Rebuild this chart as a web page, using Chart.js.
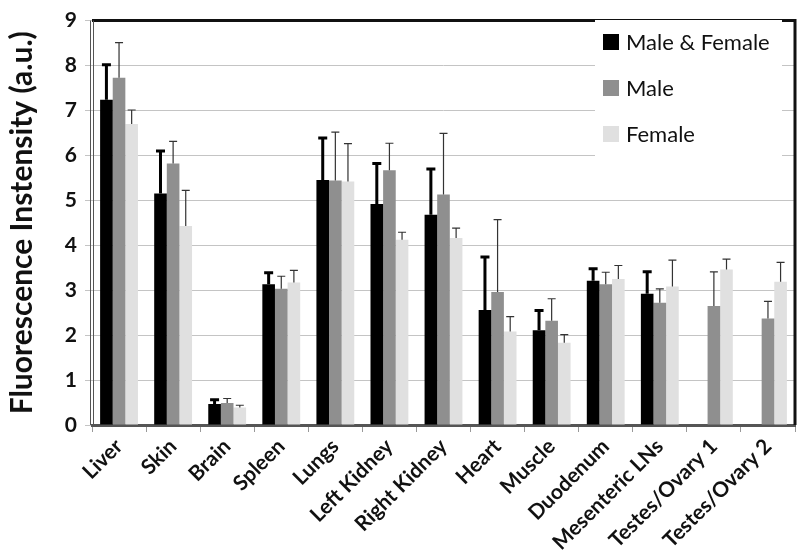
<!DOCTYPE html>
<html>
<head>
<meta charset="utf-8">
<script src="https://cdn.jsdelivr.net/npm/chart.js@4.4.0/dist/chart.umd.min.js"></script>
<style>
  html, body { margin: 0; padding: 0; background: #fff; }
  #wrap { width: 800px; height: 557px; }
</style>
</head>
<body>
<div id="wrap"><canvas id="orgaosChart" width="800" height="557"></canvas></div>
<script>
// dados
const categorias = ['Liver', 'Skin', 'Brain', 'Spleen', 'Lungs', 'Left Kidney', 'Right Kidney',
  'Heart', 'Muscle', 'Duodenum', 'Mesenteric LNs', 'Testes/Ovary 1', 'Testes/Ovary 2'];
const ambos = [7.24, 5.15, 0.47, 3.13, 5.45, 4.92, 4.68, 2.56, 2.11, 3.21, 2.92, null, null];
const ambosErro = [0.78, 0.95, 0.09, 0.26, 0.94, 0.90, 1.02, 1.18, 0.44, 0.27, 0.49, null, null];
const machos = [7.73, 5.82, 0.49, 3.03, 5.44, 5.67, 5.13, 2.96, 2.32, 3.13, 2.72, 2.65, 2.37];
const machosErro = [0.78, 0.49, 0.10, 0.28, 1.08, 0.60, 1.36, 1.61, 0.49, 0.27, 0.31, 0.76, 0.38];
const femeas = [6.70, 4.43, 0.39, 3.17, 5.42, 4.12, 4.16, 2.08, 1.83, 3.25, 3.08, 3.46, 3.19];
const femeasErro = [0.31, 0.79, 0.05, 0.27, 0.84, 0.17, 0.22, 0.33, 0.18, 0.30, 0.59, 0.23, 0.43];
const yTicks = [0, 1, 2, 3, 4, 5, 6, 7, 8, 9];

const fonte = "Lato, 'Open Sans', sans-serif";

// ====== Barras de erro (só para cima) ======
const errorBars = {
  id: 'errorBars',
  afterDatasetsDraw(chart) {
    const ctx = chart.ctx;
    const y = chart.scales.y;
    chart.data.datasets.forEach((ds, i) => {
      const meta = chart.getDatasetMeta(i);
      meta.data.forEach((bar, j) => {
        const v = ds.data[j];
        const e = ds.erros[j];
        if (v == null || e == null) return;
        const top = y.getPixelForValue(v + e);
        ctx.save();
        ctx.strokeStyle = ds.erroCor;
        ctx.lineWidth = ds.erroLargura;
        ctx.beginPath();
        ctx.moveTo(bar.x, bar.y);
        ctx.lineTo(bar.x, top);
        ctx.moveTo(bar.x - ds.capa, top);
        ctx.lineTo(bar.x + ds.capa, top);
        ctx.stroke();
        ctx.restore();
      });
    });
  }
};

// ====== Moldura + legenda ======
const moldura = {
  id: 'moldura',
  afterDraw(chart) {
    const ctx = chart.ctx;
    const a = chart.chartArea;
    ctx.save();
    // topo e direita pretos
    ctx.strokeStyle = '#111';
    ctx.lineWidth = 3;
    ctx.beginPath();
    ctx.moveTo(a.left, a.top);
    ctx.lineTo(a.right, a.top);
    ctx.lineTo(a.right, a.bottom);
    ctx.stroke();
    // esquerda dupla cinza
    ctx.strokeStyle = '#555';
    ctx.lineWidth = 1;
    ctx.beginPath();
    ctx.moveTo(a.left - 1.5, a.top);
    ctx.lineTo(a.left - 1.5, a.bottom);
    ctx.moveTo(a.left + 1.5, a.top);
    ctx.lineTo(a.left + 1.5, a.bottom);
    ctx.stroke();

    // legenda
    const lx = 595, ly = 20;
    ctx.fillStyle = '#fff';
    ctx.fillRect(lx, ly, 187, 138);
    ctx.font = '22px ' + fonte;
    ctx.textBaseline = 'middle';
    chart.data.datasets.forEach((ds, i) => {
      const cy = 42 + i * 46;
      ctx.fillStyle = ds.backgroundColor;
      ctx.fillRect(lx + 8, cy - 8, 16, 16);
      ctx.fillStyle = '#111';
      ctx.fillText(ds.label, lx + 31, cy + 1);
    });
    ctx.restore();
  }
};

const ctx = document.getElementById('orgaosChart').getContext('2d');
new Chart(ctx, {
  type: 'bar',
  data: {
    labels: categorias,
    datasets: [
      { label: 'Male & Female', data: ambos, erros: ambosErro, backgroundColor: '#000000',
        erroCor: '#000', erroLargura: 3, capa: 4.5 },
      { label: 'Male', data: machos, erros: machosErro, backgroundColor: '#8f8f8f',
        erroCor: '#333', erroLargura: 1.2, capa: 4 },
      { label: 'Female', data: femeas, erros: femeasErro, backgroundColor: '#e0e0e0',
        erroCor: '#333', erroLargura: 1.2, capa: 4 }
    ]
  },
  options: {
    responsive: false,
    animation: false,
    layout: { padding: { top: 7, right: 5, left: 0, bottom: 0 } },
    datasets: { bar: { categoryPercentage: 0.7, barPercentage: 1.0 } },
    plugins: { legend: { display: false }, tooltip: { enabled: false } },
    scales: {
      x: {
        afterFit(scale) { scale.height = 132; },
        grid: { display: true, drawOnChartArea: false, offset: true, tickLength: 7, color: '#999' },
        border: { display: true, color: '#555', width: 3 },
        ticks: {
          color: '#111', minRotation: 45, maxRotation: 45, padding: 2,
          font: { family: fonte, size: 21, weight: 'bold' }
        }
      },
      y: {
        min: 0, max: 9,
        afterFit(scale) { scale.width = 92; },
        afterBuildTicks(scale) { scale.ticks = yTicks.map(v => ({ value: v })); },
        grid: { color: '#c4c4c4', tickLength: 7, lineWidth: 1 },
        border: { display: false },
        ticks: { color: '#111', padding: 8, font: { family: fonte, size: 21, weight: 'bold' } },
        title: {
          display: true, text: 'Fluorescence Instensity (a.u.)', color: '#111', padding: { top: 4, bottom: 0 },
          font: { family: fonte, size: 30, weight: 'bold' }
        }
      }
    }
  },
  plugins: [errorBars, moldura]
});
</script>
</body>
</html>
